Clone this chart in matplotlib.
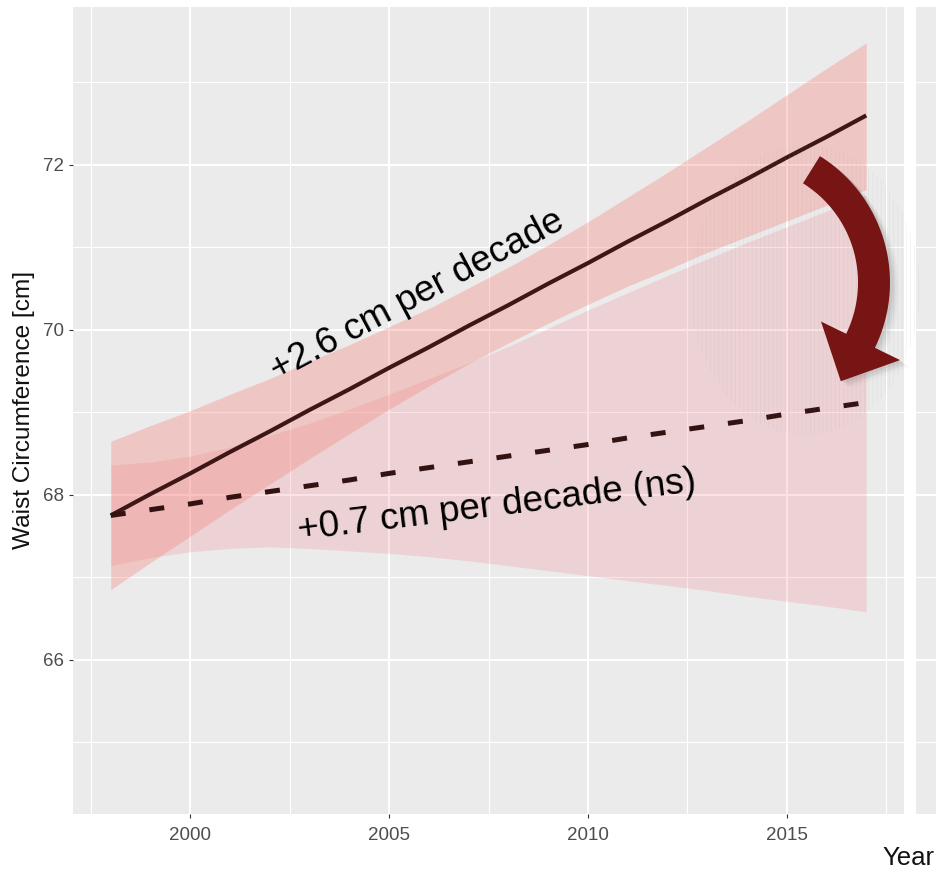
import numpy as np
import matplotlib
matplotlib.use("Agg")
import matplotlib.pyplot as plt
from matplotlib.patches import Polygon, Ellipse
from matplotlib.ticker import MultipleLocator

plt.rcParams['font.family'] = ['Liberation Sans', 'DejaVu Sans']
plt.rcParams['hatch.linewidth'] = 0.6

# --- data -------------------------------------------------------------
years = list(range(1998, 2018))

# steep trend (solid line) with its confidence band
fit_solid = [67.75, 68.01, 68.26, 68.52, 68.77, 69.03, 69.28, 69.54, 69.79, 70.05,
             70.30, 70.56, 70.81, 71.07, 71.32, 71.58, 71.83, 72.09, 72.34, 72.60]
lo_solid = [66.85, 67.18, 67.50, 67.82, 68.13, 68.44, 68.74, 69.04, 69.32, 69.59,
            69.84, 70.08, 70.31, 70.53, 70.73, 70.94, 71.13, 71.32, 71.51, 71.70]
hi_solid = [68.65, 68.84, 69.02, 69.22, 69.41, 69.62, 69.82, 70.04, 70.26, 70.51,
            70.76, 71.03, 71.31, 71.61, 71.91, 72.22, 72.53, 72.85, 73.17, 73.48]

# flat trend (dashed line) with its confidence band
fit_dash = [67.75, 67.82, 67.89, 67.97, 68.04, 68.11, 68.18, 68.26, 68.33, 68.40,
            68.47, 68.54, 68.61, 68.69, 68.76, 68.83, 68.90, 68.98, 69.05, 69.12]
lo_dash = [67.14, 67.24, 67.31, 67.35, 67.37, 67.35, 67.32, 67.29, 67.25, 67.20,
           67.14, 67.08, 67.02, 66.96, 66.90, 66.84, 66.77, 66.71, 66.65, 66.58]
hi_dash = [68.36, 68.40, 68.47, 68.58, 68.72, 68.87, 69.04, 69.22, 69.41, 69.60,
           69.80, 70.02, 70.24, 70.45, 70.66, 70.86, 71.06, 71.25, 71.44, 71.64]

x_ticks = [2000, 2005, 2010, 2015]
y_ticks = [66, 68, 70, 72]

label_solid = "+2.6 cm per decade"
label_dash = "+0.7 cm per decade (ns)"
y_title = "Waist Circumference [cm]"
x_title = "Year"

# --- figure -----------------------------------------------------------
W, H = 936, 872
fig = plt.figure(figsize=(W / 100, H / 100), dpi=100)

def px(x, y):
    """image pixel (origin top-left) -> figure fraction"""
    return (x / W, 1 - y / H)

panel_bg = '#EBEBEB'
left, right, top, bottom = 73, 904, 7, 814
ax = fig.add_axes([left / W, 1 - bottom / H, (right - left) / W, (bottom - top) / H])
ax.set_facecolor(panel_bg)
for s in ax.spines.values():
    s.set_visible(False)
ax.set_xlim(1997.05, 2017.95)
ax.set_ylim(64.13, 73.915)

ax.set_xticks(x_ticks)
ax.set_yticks(y_ticks)
ax.xaxis.set_minor_locator(MultipleLocator(2.5))
ax.yaxis.set_minor_locator(MultipleLocator(1))
ax.grid(which='major', color='white', lw=1.5, zorder=0)
ax.grid(which='minor', color='white', lw=0.8, zorder=0)
ax.set_axisbelow(True)
ax.tick_params(which='minor', length=0)
ax.tick_params(which='major', length=3.0, width=0.8, color='#333333',
               labelsize=13.5, labelcolor='#4D4D4D')
ax.tick_params(axis='x', pad=6.3)
ax.tick_params(axis='y', pad=3.3)

band_col = '#F8766D'
ax.fill_between(years, lo_solid, hi_solid, color=band_col, alpha=0.30, lw=0, zorder=2)
ax.fill_between(years, lo_dash, hi_dash, color='#F27C84', alpha=0.22, lw=0, zorder=2)

ax.plot(years, fit_solid, color='#3D1616', lw=3.0, zorder=4, solid_capstyle='butt')
ax.plot(years, fit_dash, color='#341212', lw=3.6, ls=(0, (3.0, 4.8)),
        dash_capstyle='butt', zorder=4)

ax.text(2005.70, 70.42, label_solid, rotation=28, rotation_mode='anchor',
        ha='center', va='center', fontsize=26.6, color='black', zorder=6)
ax.text(2007.70, 67.86, label_dash, rotation=7, rotation_mode='anchor',
        ha='center', va='center', fontsize=26.6, color='black', zorder=6)

# --- curved arrow -----------------------------------------------------
cx, cy = 741, 282.5
r_in, r_out, r_mid = 117, 149, 133
a0, a1 = np.deg2rad(-58), np.deg2rad(26)
ang = np.linspace(a0, a1, 60)
outer = [(cx + r_out * np.cos(a), cy + r_out * np.sin(a)) for a in ang]
inner = [(cx + r_in * np.cos(a), cy + r_in * np.sin(a)) for a in ang[::-1]]
barb_out = (cx + 177 * np.cos(a1), cy + 177 * np.sin(a1))
barb_in = (cx + 89 * np.cos(a1), cy + 89 * np.sin(a1))
base = (cx + r_mid * np.cos(a1), cy + r_mid * np.sin(a1))
tip = (base[0] - 45 * np.sin(a1), base[1] + 45 * np.cos(a1))
arrow_px = outer + [barb_out, tip, barb_in] + inner

# faint striped halo behind the arrow
hx, hy = px(805, 290)
halo = Ellipse((hx, hy), 230 / W, 290 / H, transform=fig.transFigure,
               facecolor='none', edgecolor='#9A8C8C', hatch='||||', lw=0,
               alpha=0.10, zorder=7)
fig.add_artist(halo)

for dx, dy, al in [(9, 7, 0.03), (7, 5, 0.05), (5, 4, 0.07), (3, 2, 0.09)]:
    pts = [px(x + dx, y + dy) for x, y in arrow_px]
    fig.add_artist(Polygon(pts, closed=True, transform=fig.transFigure,
                           facecolor='#555555', edgecolor='none', alpha=al, zorder=8))
fig.add_artist(Polygon([px(x, y) for x, y in arrow_px], closed=True,
                       transform=fig.transFigure, facecolor='#771414',
                       edgecolor='none', zorder=9))

# --- narrow panel strip on the right -----------------------------------
ax2 = fig.add_axes([916 / W, 1 - bottom / H, (W - 916) / W, (bottom - top) / H])
ax2.set_facecolor(panel_bg)
for s in ax2.spines.values():
    s.set_visible(False)
ax2.set_ylim(ax.get_ylim())
ax2.set_xlim(0, 1)
ax2.set_yticks(y_ticks)
ax2.yaxis.set_minor_locator(MultipleLocator(1))
ax2.set_xticks([])
ax2.grid(axis='y', which='major', color='white', lw=1.5)
ax2.grid(axis='y', which='minor', color='white', lw=0.8)
ax2.tick_params(which='both', length=0, labelleft=False)

# --- axis titles --------------------------------------------------------
fig.text(*px(24, 410), y_title, rotation=90, ha='center', va='center',
         fontsize=17.6, color='#111111')
fig.text(*px(882, 858), x_title, ha='left', va='center',
         fontsize=18.5, color='#111111')

fig.savefig('out.png', dpi=100, facecolor='white')
